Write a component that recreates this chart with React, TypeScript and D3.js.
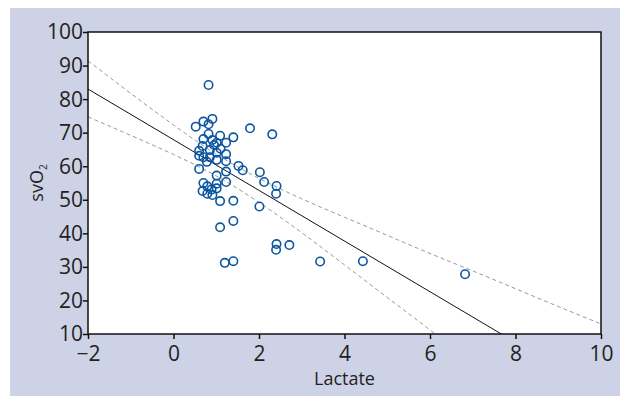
import React, { useEffect, useRef } from 'react';
import * as d3 from 'd3';

// scatter of lactate vs svO2
const lactate = [0.82, 0.91, 0.70, 0.52, 0.82, 1.79, 2.31, 0.82, 1.09, 1.40, 0.70, 0.91, 1.23, 1.01, 0.68,
    0.95, 1.10, 0.60, 0.85, 1.01, 1.23, 0.60, 0.70, 0.85, 1.01, 1.23, 0.78, 0.60, 1.52, 1.62,
    1.23, 2.02, 1.01, 2.12, 2.41, 2.40, 0.70, 1.23, 1.01, 0.79, 0.89, 1.01, 0.68, 0.91, 0.79,
    1.09, 1.40, 2.01, 1.40, 1.09, 2.41, 2.40, 2.71, 1.20, 1.40, 3.43, 4.43, 6.82];
const svO2 = [84.2, 74.1, 73.3, 71.8, 72.5, 71.3, 69.5, 69.6, 69.1, 68.6, 68.1, 67.8, 67.0, 67.0, 66.0,
    66.3, 65.2, 64.6, 64.8, 64.0, 63.6, 63.1, 62.7, 62.7, 61.9, 61.5, 61.3, 59.2, 60.1, 58.8,
    58.4, 58.2, 57.2, 55.3, 54.1, 51.8, 55.0, 55.3, 54.8, 54.0, 53.1, 53.4, 52.6, 51.4, 51.8,
    49.6, 49.7, 48.0, 43.7, 41.8, 36.8, 35.1, 36.5, 31.2, 31.7, 31.6, 31.7, 27.8];

// regression line and confidence band
const fitX = [-2, 10];
const fitY = [83.0, -7.6];
const bandX = [-2, -1, 0, 1, 2, 3, 4, 5, 6, 7, 8, 9, 10];
const bandUpper = [91.4, 81.7, 72.3, 63.6, 56.4, 50.3, 44.8, 39.4, 34.0, 28.8, 23.5, 18.2, 13.0];
const bandLower = [74.7, 69.2, 63.5, 57.1, 49.2, 40.2, 30.6, 20.9, 11.2, 1.4, -8.5, -18.3, -28.2];

const xTicks = [-2, 0, 2, 4, 6, 8, 10];
const yTicks = [10, 20, 30, 40, 50, 60, 70, 80, 90, 100];

export default function App() {
    const ref = useRef(null);

    useEffect(() => {
        const width = 620;
        const height = 396;
        const margin = { left: 88, right: 19, top: 32, bottom: 62 };
        const font = "'Open Sans', 'DejaVu Sans', sans-serif";
        const textColor = '#231f20';

        const svg = d3.select(ref.current);
        svg.selectAll('*').remove();

        svg.append('rect')
            .attr('x', 10).attr('y', 8)
            .attr('width', width - 10).attr('height', height - 8)
            .attr('fill', '#cdd2e6');

        const x = d3.scaleLinear().domain([-2, 10]).range([margin.left, width - margin.right]);
        const y = d3.scaleLinear().domain([10, 100]).range([height - margin.bottom, margin.top]);

        svg.append('rect')
            .attr('x', x(-2)).attr('y', y(100))
            .attr('width', x(10) - x(-2)).attr('height', y(10) - y(100))
            .attr('fill', '#ffffff');

        svg.append('clipPath').attr('id', 'plot-clip')
            .append('rect')
            .attr('x', x(-2)).attr('y', y(100))
            .attr('width', x(10) - x(-2)).attr('height', y(10) - y(100));

        const plot = svg.append('g').attr('clip-path', 'url(#plot-clip)');

        const band = d3.line<number>()
            .x((_, i) => x(bandX[i]))
            .curve(d3.curveNatural);

        plot.append('path')
            .attr('d', band.y((d) => y(d))(bandUpper))
            .attr('fill', 'none')
            .attr('stroke', '#9a9a9a')
            .attr('stroke-width', 1)
            .attr('stroke-dasharray', '4,3');

        plot.append('path')
            .attr('d', band.y((d) => y(d))(bandLower))
            .attr('fill', 'none')
            .attr('stroke', '#9a9a9a')
            .attr('stroke-width', 1)
            .attr('stroke-dasharray', '4,3');

        plot.append('line')
            .attr('x1', x(fitX[0])).attr('y1', y(fitY[0]))
            .attr('x2', x(fitX[1])).attr('y2', y(fitY[1]))
            .attr('stroke', '#111111')
            .attr('stroke-width', 1);

        plot.selectAll('circle.pt')
            .data(lactate)
            .enter()
            .append('circle')
            .attr('class', 'pt')
            .attr('cx', (d) => x(d))
            .attr('cy', (_, i) => y(svO2[i]))
            .attr('r', 4.2)
            .attr('fill', 'none')
            .attr('stroke', '#0b55a1')
            .attr('stroke-width', 1.6);

        // frame
        svg.append('rect')
            .attr('x', x(-2)).attr('y', y(100))
            .attr('width', x(10) - x(-2)).attr('height', y(10) - y(100))
            .attr('fill', 'none')
            .attr('stroke', '#111111')
            .attr('stroke-width', 1.5);

        const xAxis = svg.append('g')
            .attr('transform', `translate(0, ${y(10)})`)
            .call(d3.axisBottom(x).tickValues(xTicks).tickSize(5).tickSizeOuter(0)
                .tickFormat((d: any) => (d < 0 ? '\u2212' + Math.abs(d) : String(d))));
        xAxis.select('.domain').remove();
        xAxis.selectAll('line').attr('stroke', '#111111').attr('stroke-width', 1.5);
        xAxis.selectAll('text')
            .attr('dy', '0.71em')
            .attr('y', 12)
            .style('font-family', font)
            .style('font-size', '21px')
            .style('fill', textColor);

        const yAxis = svg.append('g')
            .attr('transform', `translate(${x(-2)}, 0)`)
            .call(d3.axisLeft(y).tickValues(yTicks).tickSize(5).tickSizeOuter(0));
        yAxis.select('.domain').remove();
        yAxis.selectAll('line').attr('stroke', '#111111').attr('stroke-width', 1.5);
        yAxis.selectAll('text')
            .attr('x', -5)
            .attr('dy', '0.33em')
            .style('font-family', font)
            .style('font-size', '21px')
            .style('fill', textColor);

        svg.append('text')
            .attr('x', (x(-2) + x(10)) / 2)
            .attr('y', 385)
            .attr('text-anchor', 'middle')
            .style('font-family', font)
            .style('font-size', '18px')
            .style('fill', textColor)
            .text('Lactate');

        const yLabel = svg.append('text')
            .attr('transform', `translate(43, ${(y(10) + y(100)) / 2}) rotate(-90)`)
            .attr('text-anchor', 'middle')
            .style('font-family', font)
            .style('font-size', '18px')
            .style('fill', textColor);
        yLabel.append('tspan').text('svO');
        yLabel.append('tspan').attr('dy', 4).style('font-size', '10px').text('2');
    }, []);

    return (
        <svg ref={ref} width={620} height={396}
            style={{ position: 'absolute', left: 0, top: 0, display: 'block' }} />
    );
}
